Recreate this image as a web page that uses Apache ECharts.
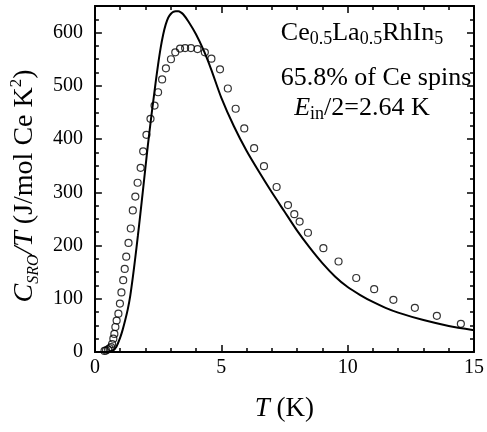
<!DOCTYPE html>
<html><head><meta charset="utf-8">
<script src="https://cdn.jsdelivr.net/npm/echarts@6/dist/echarts.min.js"></script>
<style>html,body{margin:0;padding:0;background:#fff}#c{width:487px;height:432px}</style>
</head><body><div id="c"></div>
<script>
// measured data (open circles)
const tSym = [0.38,0.44,0.52,0.58,0.64,0.68,0.73,0.77,0.81,0.86,0.93,0.99,1.05,1.12,1.18,1.24,1.33,1.42,1.50,1.60,1.69,1.81,1.91,2.04,2.20,2.36,2.50,2.66,2.81,3.01,3.18,3.37,3.57,3.80,4.06,4.35,4.61,4.95,5.26,5.57,5.91,6.30,6.69,7.19,7.64,7.89,8.10,8.43,9.04,9.64,10.34,11.05,11.81,12.66,13.53,14.48];
const cSym = [2,3,5,7,9,15,25,34,47,59,72,91,112,135,156,179,205,232,266,292,318,346,377,408,438,463,488,512,533,550,563,570,571,571,569,563,551,531,495,457,420,383,349,310,276,259,245,224,195,170,139,118,98,83,68,53];
// model curve (solid line)
const tFit = [0.55,0.7,0.85,1.0,1.1,1.2,1.3,1.4,1.5,1.6,1.7,1.8,1.9,2.0,2.1,2.2,2.3,2.4,2.5,2.6,2.7,2.8,2.9,3.0,3.1,3.2,3.3,3.4,3.5,3.7,4.0,4.3,4.6,5.0,5.5,6.0,6.5,7.0,7.5,8.0,8.5,9.0,9.5,10.0,10.5,11.0,11.5,12.0,13.0,14.0,15.0];
const cFit = [0,2,10,27,42,60,80,106,140,178,218,260,303,347,390,430,468,505,540,571,596,615,628,635,639,640,640,638,634,621,597,567,531,478,424,378,338,300,264,228,196,167,142,122,107,94,83,74,60,49,41];
// axis ticks
const xMin = 0, xMax = 15, xStep = 5;
const yMin = 0, yMax = 650, yStep = 100, yMinorStep = 25, yLabelMax = 600;

const FF = '"Liberation Serif", "Times New Roman", serif';
const chart = echarts.init(document.getElementById('c'), null, {renderer: 'canvas'});

const symData = tSym.map((t, i) => [t, cSym[i]]);
const fitData = tFit.map((t, i) => [t, cFit[i]]);

function yAx(pos, step, tickLen, labels, line) {
  return {
    type: 'value', position: pos, min: yMin, max: yMax, interval: step,
    axisLine: {show: line, onZero: false, lineStyle: {color: '#000', width: 2}},
    axisTick: {show: true, inside: true, length: tickLen, lineStyle: {color: '#000', width: 1.5}},
    axisLabel: labels ? {show: true, margin: 12, fontFamily: FF, fontSize: 20, color: '#000',
      formatter: v => (v % 100 === 0 && v <= yLabelMax) ? String(v) : ''} : {show: false},
    splitLine: {show: false}
  };
}

const yName = '{i|C}{is|SRO}{i|/T}{n| (J/mol Ce K}{sup|2}{n|)}';

const yAxes = [
  Object.assign(yAx('left', yStep, 7, true, true), {
    name: yName, nameLocation: 'middle', nameGap: 50, nameRotate: 90,
    nameTextStyle: {fontFamily: FF, fontSize: 28, color: '#000', padding: [0, 14, 0, 0], rich: {
      i: {fontFamily: FF, fontSize: 28, fontStyle: 'italic', color: '#000', lineHeight: 34},
      n: {fontFamily: FF, fontSize: 28, color: '#000', lineHeight: 34},
      is: {fontFamily: FF, fontSize: 16, fontStyle: 'italic', color: '#000', lineHeight: 10, verticalAlign: 'bottom'},
      sup: {fontFamily: FF, fontSize: 17, color: '#000', lineHeight: 6, verticalAlign: 'top'}
    }}
  }),
  yAx('left', yMinorStep, 4, false, false),
  yAx('right', yStep, 7, false, true),
  yAx('right', yMinorStep, 4, false, false)
];

function xAx(pos, labels) {
  const a = {
    type: 'value', position: pos, min: xMin, max: xMax, interval: xStep,
    axisLine: {show: true, onZero: false, lineStyle: {color: '#000', width: 2}},
    axisTick: {show: true, inside: true, length: 7, lineStyle: {color: '#000', width: 1.5}},
    minorTick: {show: true, splitNumber: 5, length: 4, lineStyle: {color: '#000', width: 1.5}},
    axisLabel: labels ? {show: true, margin: 6, fontFamily: FF, fontSize: 20, color: '#000'} : {show: false},
    splitLine: {show: false}, minorSplitLine: {show: false}
  };
  if (labels) {
    a.name = '{i|T}{n| (K)}';
    a.nameLocation = 'middle';
    a.nameGap = 43;
    a.nameTextStyle = {fontFamily: FF, fontSize: 27, color: '#000', rich: {
      i: {fontFamily: FF, fontSize: 27, fontStyle: 'italic', color: '#000'},
      n: {fontFamily: FF, fontSize: 27, color: '#000'}
    }};
  }
  return a;
}

const richAnno = {
  m: {fontFamily: FF, fontSize: 26, fill: '#000', lineHeight: 30},
  it: {fontFamily: FF, fontSize: 26, fontStyle: 'italic', fill: '#000', lineHeight: 30},
  s: {fontFamily: FF, fontSize: 18, fill: '#000', lineHeight: 6, verticalAlign: 'bottom'}
};

chart.setOption({
  animation: false,
  backgroundColor: '#fff',
  grid: {left: 92, right: 11, top: 6, bottom: 80, containLabel: false},
  xAxis: [xAx('bottom', true), xAx('top', false)],
  yAxis: yAxes,
  series: [
    {type: 'line', data: fitData, xAxisIndex: 0, yAxisIndex: 0, showSymbol: false, smooth: 0.25,
      lineStyle: {color: '#000', width: 2}, z: 2},
    {type: 'scatter', data: symData, xAxisIndex: 0, yAxisIndex: 0, symbol: 'circle', symbolSize: 7,
      itemStyle: {color: 'rgba(0,0,0,0)', borderColor: '#000', borderWidth: 1.2}, z: 3}
  ],
  graphic: [
    {type: 'text', x: 362, y: 33, style: {text: '{m|Ce}{s|0.5}{m|La}{s|0.5}{m|RhIn}{s|5}', rich: richAnno, align: 'center', verticalAlign: 'middle'}},
    {type: 'text', x: 376, y: 78, style: {text: '{m|65.8% of Ce spins}', rich: richAnno, align: 'center', verticalAlign: 'middle'}},
    {type: 'text', x: 362, y: 108, style: {text: '{it|E}{s|in}{m|/2=2.64 K}', rich: richAnno, align: 'center', verticalAlign: 'middle'}}
  ]
});
</script>
</body></html>
